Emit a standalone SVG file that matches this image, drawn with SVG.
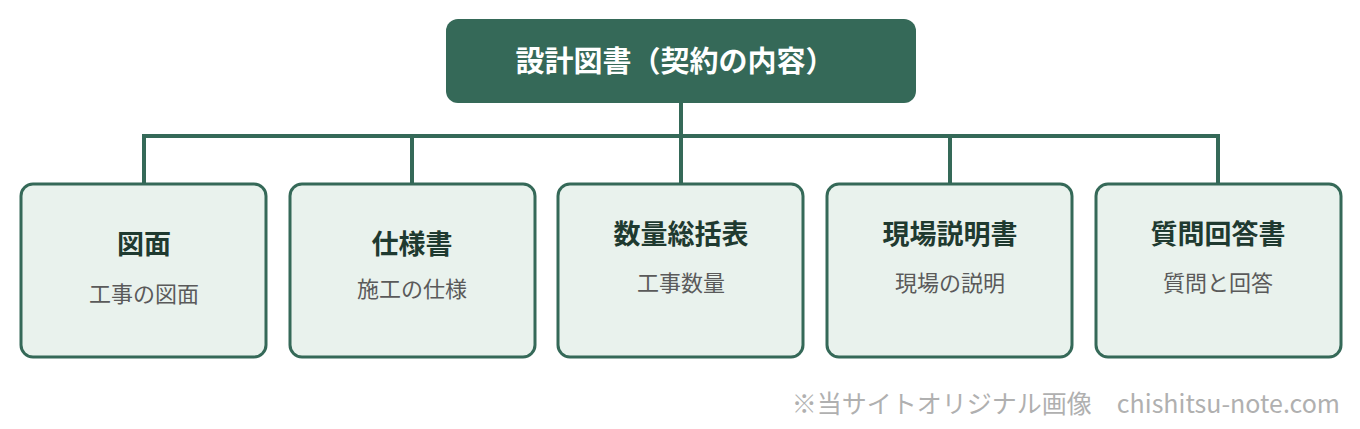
<svg xmlns="http://www.w3.org/2000/svg" width="1360" height="429" viewBox="0 0 1360 429">
<style>
.box{fill:#e9f2ed;stroke:#356958;stroke-width:3}
.t{font-family:"Noto Sans CJK JP",sans-serif;font-weight:bold;font-size:27px;fill:#1f3a30;text-anchor:middle}
.s{font-family:"Noto Sans CJK JP",sans-serif;font-size:22px;fill:#5a5a5a;text-anchor:middle}
.c{stroke:#356958;stroke-width:4;fill:none}
</style>
<rect width="1360" height="429" fill="#fff"/>
<g id="connectors">
<path class="c" d="M681 103V183M144 136H1218M144 134V183M412 136V183M950 136V183M1218 134V183"/>
</g>
<g id="root"><rect x="446" y="19" width="470" height="84" rx="12" fill="#356958"/>
<text x="675" y="72" font-family="Noto Sans CJK JP,sans-serif" font-weight="bold" font-size="29" fill="#fff" text-anchor="middle">設計図書（契約の内容）</text></g>
<g id="n1"><rect class="box" x="21" y="184" width="245" height="173" rx="12"/><text class="t" x="144" y="254">図面</text><text class="s" x="144" y="302">工事の図面</text></g>
<g id="n2"><rect class="box" x="290" y="184" width="245" height="173" rx="12"/><text class="t" x="412" y="254">仕様書</text><text class="s" x="412" y="297">施工の仕様</text></g>
<g id="n3"><rect class="box" x="558" y="184" width="245" height="173" rx="12"/><text class="t" x="681" y="244">数量総括表</text><text class="s" x="681" y="291">工事数量</text></g>
<g id="n4"><rect class="box" x="827" y="184" width="245" height="173" rx="12"/><text class="t" x="950" y="244">現場説明書</text><text class="s" x="950" y="291">現場の説明</text></g>
<g id="n5"><rect class="box" x="1096" y="184" width="245" height="173" rx="12"/><text class="t" x="1218" y="244">質問回答書</text><text class="s" x="1218" y="291">質問と回答</text></g>
<text x="1340" y="413" font-family="Noto Sans CJK JP,sans-serif" font-size="25" fill="#b0b0b0" text-anchor="end">※当サイトオリジナル画像　chishitsu-note.com</text>
</svg>
